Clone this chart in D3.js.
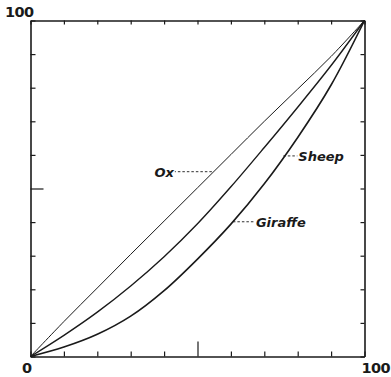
<!DOCTYPE html>
<html>
<head>
<meta charset="utf-8">
<script src="https://cdn.jsdelivr.net/npm/d3@7"></script>
<style>
  body { margin: 0; background: #fff; }
  svg { display: block; }
</style>
</head>
<body>
<div id="chart"></div>
<script>
// Values (percent of x vs percent of y)
var xs      = [0, 10, 20, 30, 40, 50, 60, 70, 80, 90, 100];
var ox      = [0, 10.4, 20.4, 30.4, 40.3, 50.2, 60.1, 70.0, 79.6, 89.3, 100];
var sheep   = [0, 6.3, 13.2, 21.0, 29.7, 39.5, 50.5, 62.2, 74.2, 86.6, 100];
var giraffe = [0, 2.8, 6.6, 12.0, 19.6, 29.0, 39.4, 51.4, 65.2, 80.8, 100];

// labels and the point (data units) where each dashed leader meets a curve
var labelNames = ["Ox", "Sheep", "Giraffe"];
var labelX     = [54.3, 75.7, 60.6];
var labelY     = [55.0, 59.7, 40.1];
var labelSide  = ["left", "right", "right"];

var tickValues = d3.range(0, 101, 10);

var W = 391, H = 377;
var margin = {top: 20.5, right: 26.5, bottom: 20.5, left: 30.5},
    width = W - margin.left - margin.right,
    height = H - margin.top - margin.bottom;

var svg = d3.select("#chart")
  .append("svg")
    .attr("width", W)
    .attr("height", H)
  .append("g")
    .attr("transform", `translate(${margin.left},${margin.top})`);

var x = d3.scaleLinear().domain([0, 100]).range([0, width]);
var y = d3.scaleLinear().domain([0, 100]).range([height, 0]);

var ink = "#1a1a1a";

// Axes with inward ticks on all four sides
var axBottom = svg.append("g")
  .attr("transform", `translate(0,${height})`)
  .call(d3.axisBottom(x).tickValues(tickValues).tickSizeInner(-5).tickSizeOuter(0).tickFormat(""));
var axLeft = svg.append("g")
  .call(d3.axisLeft(y).tickValues(tickValues).tickSizeInner(-5).tickSizeOuter(0).tickFormat(""));
var axTop = svg.append("g")
  .call(d3.axisTop(x).tickValues(tickValues).tickSizeInner(-4).tickSizeOuter(0).tickFormat(""));
var axRight = svg.append("g")
  .attr("transform", `translate(${width},0)`)
  .call(d3.axisRight(y).tickValues(tickValues).tickSizeInner(-4).tickSizeOuter(0).tickFormat(""));

// longer middle ticks on the left and bottom
axBottom.selectAll(".tick").filter(d => d === 50).select("line").attr("y2", -15);
axLeft.selectAll(".tick").filter(d => d === 50).select("line").attr("x2", 13);

[axBottom, axLeft, axTop, axRight].forEach(function(a) {
  a.select(".domain").attr("stroke", ink).attr("stroke-width", 1.6);
  a.selectAll(".tick line").attr("stroke", ink).attr("stroke-width", 1.2);
});

// Corner labels
var numFont = "'DejaVu Sans', sans-serif";
function cornerLabel(px, py, anchor, txt) {
  svg.append("text")
    .attr("x", px).attr("y", py)
    .attr("text-anchor", anchor)
    .style("font-family", numFont).style("font-size", "14.5px").style("font-weight", "bold")
    .style("letter-spacing", "-0.6px")
    .attr("fill", ink)
    .text(txt);
}
cornerLabel(x(0) + 3, y(100) - 4, "end", "100");
cornerLabel(x(0) + 1, y(0) + 16, "end", "0");
cornerLabel(x(100) - 3, y(0) + 16, "start", "100");

// Curves
var series = [
  {name: "Ox", values: ox, w: 1.0},
  {name: "Sheep", values: sheep, w: 1.4},
  {name: "Giraffe", values: giraffe, w: 1.6}
];

var line = d3.line()
  .x(d => x(d[0]))
  .y(d => y(d[1]))
  .curve(d3.curveCatmullRom.alpha(0.5));

svg.selectAll(".curve")
  .data(series)
  .enter()
  .append("path")
    .attr("class", "curve")
    .attr("fill", "none")
    .attr("stroke", ink)
    .attr("stroke-width", d => d.w)
    .attr("d", d => line(xs.map((v, i) => [v, d.values[i]])));

// Labels with dashed leaders
var leaderLen = [37, 14, 22];
labelNames.forEach(function(name, i) {
  var px = x(labelX[i]), py = y(labelY[i]);
  var dir = labelSide[i] === "left" ? -1 : 1;
  var end = px + dir * leaderLen[i];
  svg.append("line")
    .attr("x1", px).attr("y1", py)
    .attr("x2", end).attr("y2", py)
    .attr("stroke", ink)
    .attr("stroke-width", 0.9)
    .attr("stroke-dasharray", "2.5,2");
  svg.append("text")
    .attr("x", end + dir * 1)
    .attr("y", py + 5)
    .attr("text-anchor", dir < 0 ? "end" : "start")
    .style("font-family", numFont)
    .style("font-size", "13px")
    .style("font-style", "italic")
    .style("font-weight", "bold")
    .attr("fill", ink)
    .text(name);
});
</script>
</body>
</html>
